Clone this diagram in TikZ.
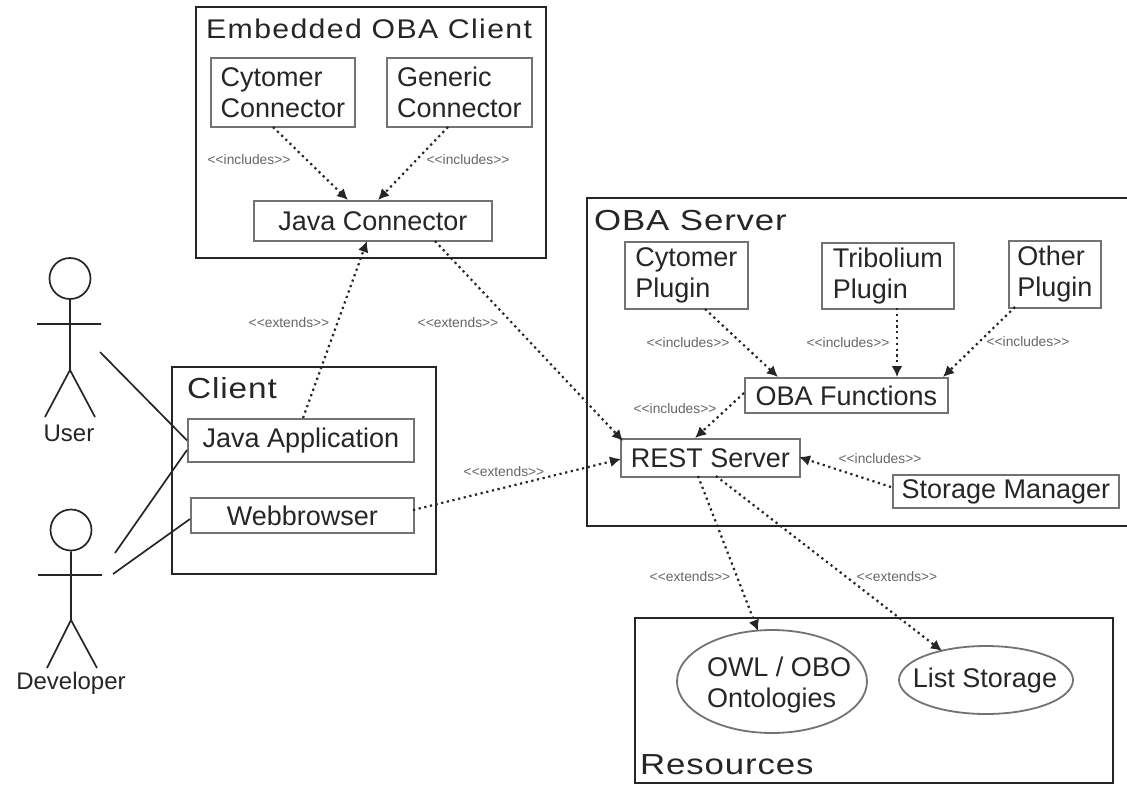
\documentclass[tikz,border=0pt]{standalone}
\usepackage{fontspec}
\setmainfont{Liberation Sans}
\usetikzlibrary{arrows.meta,shapes.geometric}
\definecolor{ink}{gray}{0.15}
\definecolor{boxline}{gray}{0.45}
\definecolor{lab}{gray}{0.4}
\tikzset{
  x=1pt,y=-1pt,
  txt/.style={text=ink,font=\fontsize{27}{31}\selectfont,align=left,inner sep=0pt},
  cont/.style={draw=ink,line width=2pt},
  title/.style={text=ink,font=\fontsize{29}{32}\selectfont,inner sep=0pt,anchor=base west},
  inbox/.style={draw=boxline,line width=1.8pt},
  dep/.style={draw=ink,line width=2.2pt,dash pattern=on 2.2pt off 3.6pt,-{Latex[length=11pt,width=11pt]}},
  stereo/.style={text=lab,font=\fontsize{13.8}{15}\selectfont,inner sep=0pt},
  actorline/.style={draw=ink,line width=1.7pt},
  assoc/.style={draw=ink,line width=1.7pt},
  oval/.style={draw=boxline,line width=1.8pt,ellipse,inner sep=0pt},
}
\newcommand{\boxnode}[6]{%
  \node[inbox,minimum width=#4pt-#2pt,minimum height=#5pt-#3pt,anchor=north west,inner sep=0pt] (#1) at (#2,#3) {};
  \node[txt] at (#1.center) {#6};}
\newcommand{\inc}{<{}<includes>{}>}
\newcommand{\ext}{<{}<extends>{}>}
\begin{document}
\begin{tikzpicture}
\useasboundingbox (0,0) rectangle (1127,785);
\fill[white] (0,0) rectangle (1127,785);
% containers
\node[cont,minimum width=350pt,minimum height=251pt,anchor=north west,inner sep=0pt] (emb) at (195,6) {};
\node[title] (embt) at (206,38) {\fontsize{27}{30}\selectfont\addfontfeature{LetterSpace=5,FakeStretch=1.12}Embedded OBA Client};
\node[minimum width=540pt,minimum height=328pt,anchor=north west,inner sep=0pt,outer sep=0pt] (srv) at (587,198) {};
\draw[cont] (srv.north east) -- (srv.north west) -- (srv.south west) -- (srv.south east);
\node[title] (srvt) at (594,230) {\addfontfeature{LetterSpace=3,FakeStretch=1.2}OBA Server};
\node[cont,minimum width=264pt,minimum height=207pt,anchor=north west,inner sep=0pt] (cli) at (171,366) {};
\node[title] (clit) at (187,398) {\addfontfeature{LetterSpace=3,FakeStretch=1.15}Client};
\node[cont,minimum width=478pt,minimum height=165pt,anchor=north west,inner sep=0pt] (res) at (634,617) {};
\node[title] (rest) at (640,774) {\addfontfeature{LetterSpace=3,FakeStretch=1.2}Resources};
% inner boxes
\boxnode{cc}{210}{57}{354}{126}{Cytomer\\Connector}
\boxnode{gc}{386}{57}{531}{126}{Generic\\Connector}
\boxnode{jc}{253}{200}{491}{240}{Java Connector}
\boxnode{ja}{187}{418}{413}{461}{Java Application}
\boxnode{wb}{190}{497}{413}{532}{Webbrowser}
\boxnode{cp}{624}{241}{747}{308}{Cytomer\\Plugin}
\boxnode{tp}{821}{242}{953}{308}{Tribolium\\Plugin}
\boxnode{op}{1008}{240}{1100}{307}{Other\\Plugin}
\boxnode{of}{744}{377}{947}{412}{OBA Functions}
\boxnode{rs}{620}{438}{799}{476}{REST Server}
\boxnode{sm}{892}{474}{1118}{507}{Storage Manager}
% ellipses
\node[oval,minimum width=190pt,minimum height=103pt] (ow) at (772,681.5) {};
\node[txt] (owt) at (779,685) {OWL / OBO\\Ontologies};
\node[oval,minimum width=174pt,minimum height=68pt] (ls) at (986,680) {};
\node[txt] (lst) at (985,681) {List Storage};
% dependencies
\coordinate (c1) at (273,127); \coordinate (c1e) at (348,200);
\draw[dep] (c1) -- (c1e);
\coordinate (c2) at (448,127); \coordinate (c2e) at (378,200);
\draw[dep] (c2) -- (c2e);
\coordinate (c3) at (303,418); \coordinate (c3e) at (367,241);
\draw[dep] (c3) -- (c3e);
\coordinate (c4) at (435,241); \coordinate (c4e) at (623,441);
\draw[dep] (c4) -- (c4e);
\coordinate (c5) at (413,510); \coordinate (c5e) at (621,459);
\draw[dep] (c5) -- (c5e);
\coordinate (c6) at (705,309); \coordinate (c6e) at (778,377);
\draw[dep] (c6) -- (c6e);
\coordinate (c7) at (897,308); \coordinate (c7e) at (897,377);
\draw[dep] (c7) -- (c7e);
\coordinate (c8) at (1015,307); \coordinate (c8e) at (943,377);
\draw[dep] (c8) -- (c8e);
\coordinate (c9) at (744,393); \coordinate (c9e) at (695,438);
\draw[dep] (c9) -- (c9e);
\coordinate (c10) at (891,487); \coordinate (c10e) at (799,457);
\draw[dep] (c10) -- (c10e);
\coordinate (c11) at (698,476); \coordinate (c11e) at (758,631);
\draw[dep] (c11) -- (c11e);
\coordinate (c12) at (716,476); \coordinate (c12e) at (942,651);
\draw[dep] (c12) -- (c12e);
% stereotypes
\node[stereo] (l1) at (249,160) {\inc};
\node[stereo] (l2) at (468,160) {\inc};
\node[stereo] (l3) at (289,323) {\ext};
\node[stereo] (l4) at (458,323) {\ext};
\node[stereo] (l5) at (688,343) {\inc};
\node[stereo] (l6) at (848,343) {\inc};
\node[stereo] (l7) at (1028,342) {\inc};
\node[stereo] (l8) at (675,409) {\inc};
\node[stereo] (l9) at (880,459) {\inc};
\node[stereo] (l10) at (504,472) {\ext};
\node[stereo] (l11) at (690,577) {\ext};
\node[stereo] (l12) at (897,577) {\ext};
% actors
\node[draw=ink,line width=1.7pt,circle,minimum size=41pt,inner sep=0pt] (uh) at (70,278.5) {};
\coordinate (ub) at (70,370);
\coordinate (ua) at (37,324); \coordinate (ub2) at (101,324);
\coordinate (ul) at (45,417); \coordinate (ur) at (95,417);
\draw[actorline] (uh) -- (ub) (ua) -- (ub2) (ul) -- (ub) -- (ur);
\node[txt,font=\fontsize{24}{28}\selectfont] (ut) at (69,433) {User};
\node[draw=ink,line width=1.7pt,circle,minimum size=41pt,inner sep=0pt] (dh) at (71,530) {};
\coordinate (db) at (71,620);
\coordinate (da) at (38,575); \coordinate (db2) at (102,575);
\coordinate (dl) at (47,668); \coordinate (dr) at (97,668);
\draw[actorline] (dh) -- (db) (da) -- (db2) (dl) -- (db) -- (dr);
\node[txt,font=\fontsize{24}{28}\selectfont] (dt) at (71,683) {Developer};
% associations
\coordinate (a1) at (100,352); \coordinate (a2) at (115,553); \coordinate (a3) at (113,574);
\coordinate (a2e) at (187,450); \coordinate (a3e) at (190,519);
\draw[assoc] (a1) -- (ja.west);
\draw[assoc] (a2) -- (a2e);
\draw[assoc] (a3) -- (a3e);
\end{tikzpicture}
\end{document}
